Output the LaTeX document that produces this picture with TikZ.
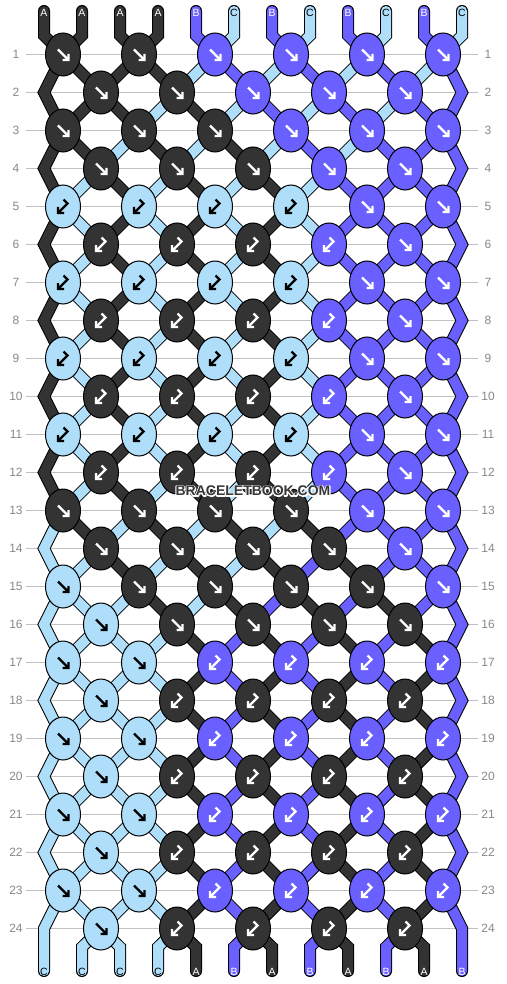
\documentclass[tikz,border=0pt]{standalone}
\usepackage{fontspec}
\setmainfont{Liberation Sans}
\usetikzlibrary{shapes.geometric}
\definecolor{cA}{RGB}{51,51,51}
\definecolor{cB}{RGB}{106,96,255}
\definecolor{cC}{RGB}{174,222,250}
\definecolor{gridc}{RGB}{192,192,192}
\definecolor{numc}{RGB}{136,136,136}
\definecolor{wmc}{RGB}{55,55,55}
% string states (colour of each of the 12 positions after a row)
\def\stA{A,A,A,A,B,C,B,C,B,C,B,C}
\def\stB{A,A,A,A,C,B,C,B,C,B,C,B}
\def\stC{A,A,A,C,A,C,B,C,B,C,B,B}
\def\stD{A,A,C,A,C,A,C,B,C,B,B,B}
\def\stE{A,C,A,C,A,C,A,C,B,B,B,B}
\def\stF{C,A,C,A,C,A,C,A,B,B,B,B}
\def\stG{C,C,A,C,A,C,A,B,A,B,B,B}
\def\stH{C,C,C,A,C,A,B,A,B,A,B,B}
\def\stI{C,C,C,C,A,B,A,B,A,B,A,B}
% knots per row: colour / type
\def\knA{A/f,A/f,B/f,B/f,B/f,B/f}
\def\knB{A/f,A/f,B/f,B/f,B/f}
\def\knC{A/f,A/f,A/f,B/f,B/f,B/f}
\def\knD{A/f,A/f,A/f,B/f,B/f}
\def\knE{C/b,C/b,C/b,C/b,B/f,B/f}
\def\knF{A/b,A/b,A/b,B/b,B/f}
\def\knG{A/f,A/f,A/f,A/f,B/f,B/f}
\def\knH{A/f,A/f,A/f,A/f,B/f}
\def\knI{C/f,A/f,A/f,A/f,A/f,B/f}
\def\knJ{C/f,A/f,A/f,A/f,A/f}
\def\knK{C/f,C/f,B/b,B/b,B/b,B/b}
\def\knL{C/f,A/b,A/b,A/b,A/b}
\newcommand\glyphf[1]{\draw[arr,#1] (-5,-5) -- (5.5,5.5) (5.5,-0.5) -- (5.5,5.5) -- (-0.5,5.5);}
\newcommand\glyphb[1]{\draw[arr,#1] (0.5,-7) -- (4.5,-3) -- (-5,6.5) (-5,0.5) -- (-5,6.5) -- (1,6.5);}
\begin{document}
\begin{tikzpicture}[x=1pt,y=-1pt,
  strand/.style={draw=black,line width=1pt,double=#1,double distance=10pt,line join=miter},
  knot/.style={ellipse,draw=black,line width=1pt,fill=#1,minimum width=35pt,minimum height=43pt,inner sep=0pt},
  arr/.style={line width=2.3pt,line cap=butt,line join=miter},
  arcA/.style={draw=white}, arcB/.style={draw=white}, arcC/.style={draw=black},
  labA/.style={text=white}, labB/.style={text=white}, labC/.style={text=black},
  rowlab/.style={text=numc,font=\fontsize{12}{12}\selectfont,inner sep=0pt},
  endlab/.style={font=\fontsize{10.5}{10.5}\selectfont,inner sep=0pt},
  wmark/.style={font=\bfseries\fontsize{14}{14}\selectfont,inner sep=0pt},
  gridline/.style={draw=gridc,line width=1pt}]
\fill[white] (0,0) rectangle (506,984);
\useasboundingbox (0,0) rectangle (506,984);
% grid lines and row numbers
\foreach \rw in {1,...,24}{
  \pgfmathsetmacro\yy{54.5+38*(\rw-1)}
  \draw[gridline] (26,\yy) -- (478,\yy);
  \node[rowlab] (numL\rw) at (16,\yy) {\rw};
  \node[rowlab] (numR\rw) at (488,\yy) {\rw};
}
% strands
\foreach \rw/\sv in {0/A,1/B,2/C,3/D,4/E,5/E,6/E,7/E,8/E,9/E,10/E,11/E,12/E,13/F,14/G,15/H,16/I,17/I,18/I,19/I,20/I,21/I,22/I,23/I,24/I}{
  \expandafter\let\expandafter\cur\csname st\sv\endcsname
  \foreach \cl [count=\ix] in \cur {
    \pgfmathsetmacro\px{44+38*(\ix-1)}
    \pgfmathsetmacro\ya{54.5+38*(\rw-1)}
    \pgfmathsetmacro\yb{\ya+38}
    \pgfmathsetmacro\oa{mod(\ix+\rw,2)==0 ? 19 : -19}
    \pgfmathsetmacro\ob{mod(\ix+\rw+1,2)==0 ? 19 : -19}
    \ifnum\rw=0
      \draw[strand=c\cl,line cap=round] (\px,11) -- (\px,35.5) -- (\px+\ob,54.5);
    \else
      \ifnum\rw=24
        \ifnum\ix>1 \ifnum\ix<12
          \draw[strand=c\cl,line cap=round] (\px+\oa,\ya) -- (\px,\ya+18.5) -- (\px,971);
        \fi\fi
      \else
        \ifnum\ix>1 \ifnum\ix<12
          \draw[strand=c\cl] (\px+\oa,\ya) -- (\px+\ob,\yb);
        \fi\fi
        \ifodd\rw
          \ifnum\ix=1 \def\dozig{1}\else\ifnum\ix=12 \def\dozig{1}\else\def\dozig{0}\fi\fi
          \ifnum\dozig=1
            \ifnum\rw<23
              \draw[strand=c\cl] (\px+\oa,\ya) -- (\px,\yb) -- (\px+\oa,\yb+38);
            \else
              \draw[strand=c\cl,line cap=round] (\px+\oa,\ya) -- (\px,\yb) -- (\px,971);
            \fi
          \fi
        \fi
      \fi
    \fi
  }
}
% knots
\foreach \rw/\kv in {1/A,2/B,3/C,4/D,5/E,6/F,7/E,8/F,9/E,10/F,11/E,12/F,13/G,14/H,15/I,16/J,17/K,18/L,19/K,20/L,21/K,22/L,23/K,24/L}{
  \expandafter\let\expandafter\cur\csname kn\kv\endcsname
  \pgfmathsetmacro\yy{54.5+38*(\rw-1)}
  \pgfmathsetmacro\xo{mod(\rw,2)==1 ? 63 : 101}
  \foreach \cl/\ty [count=\kn] in \cur {
    \pgfmathsetmacro\kx{\xo+76*(\kn-1)}
    \node[knot=c\cl] (k-\rw-\kn) at (\kx,\yy) {};
    \begin{scope}[shift={(\kx,\yy)}]
      \csname glyph\ty\endcsname{arc\cl}
    \end{scope}
  }
}
% end labels
\foreach \cl [count=\ix] in \stA {
  \pgfmathsetmacro\px{44+38*(\ix-1)}
  \node[endlab,lab\cl] (top\ix) at (\px,12.5) {\cl};
}
\foreach \cl [count=\ix] in \stI {
  \pgfmathsetmacro\px{44+38*(\ix-1)}
  \node[endlab,lab\cl] (bot\ix) at (\px,972) {\cl};
}
% watermark: a stroked light outline underneath, dark letters on top
\node[wmark,text=white] (wmhalo) at (253,491) {\special{pdf:literal 1 Tr 2.2 w 1 j 1 1 1 RG}BRACELETBOOK.COM\special{pdf:literal 0 Tr}};
\node[wmark,text=wmc] (wm) at (253,491) {BRACELETBOOK.COM};
\end{tikzpicture}
\end{document}
